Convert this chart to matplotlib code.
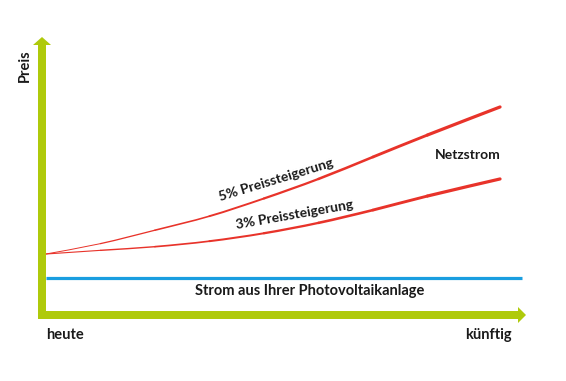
import matplotlib
matplotlib.use("Agg")
import matplotlib.pyplot as plt
import numpy as np
from matplotlib.path import Path
from matplotlib.patches import FancyArrow, PathPatch
from matplotlib.transforms import IdentityTransform

# ---- data (price index, start = 100) ----
years = [0, 3, 6, 9, 12, 15, 18, 21, 25]
price_5pct = [100, 117, 139, 162, 191, 223, 259, 295, 341]
price_3pct = [100, 106, 112, 121, 134, 151, 172, 195, 223]
pv_years = [0, 26.2]
pv_price = [61, 61]

label_y = "Preis"
label_start = "heute"
label_end = "künftig"
label_grid = "Netzstrom"
label_pv = "Strom aus Ihrer Photovoltaikanlage"
label_5 = "5% Preissteigerung"
label_3 = "3% Preissteigerung"

RED = "#e8332a"
GREEN = "#afca0b"
BLUE = "#1a9ee0"

plt.rcParams["font.family"] = ["Lato", "DejaVu Sans"]

W, H = 566, 381
fig = plt.figure(figsize=(W / 100, H / 100), dpi=100)
ax = fig.add_axes([42 / W, 66 / H, 484 / W, 278 / H])
ax.set_xlim(-0.22, 26.43)
ax.set_ylim(0, 455.7)
ax.axis("off")


def smooth_tapered(ax, x, y, w0, w1, color):
    """Draw a curve through the data points (Catmull-Rom Bezier pieces),
    each piece a bit thicker than the previous one."""
    P = np.column_stack([x, y]).astype(float)
    n = len(P)
    widths = np.linspace(w0, w1, n - 1)
    for i in range(n - 1):
        p0 = P[max(i - 1, 0)]
        p1 = P[i]
        p2 = P[i + 1]
        p3 = P[min(i + 2, n - 1)]
        c1 = p1 + (p2 - p0) / 6.0
        c2 = p2 - (p3 - p1) / 6.0
        path = Path([p1, c1, c2, p2],
                    [Path.MOVETO, Path.CURVE4, Path.CURVE4, Path.CURVE4])
        ax.add_patch(PathPatch(path, fill=False, edgecolor=color,
                               lw=widths[i], capstyle="round",
                               joinstyle="round", zorder=3))


smooth_tapered(ax, years, price_5pct, 0.7, 2.3, RED)
smooth_tapered(ax, years, price_3pct, 0.8, 2.3, RED)
ax.plot(pv_years, pv_price, color=BLUE, lw=2.3, solid_capstyle="butt", zorder=3)

# axes arrows (pixel coordinates)
tr = IdentityTransform()
fig.patches.append(FancyArrow(42, H - 319, 0, 282, width=8, head_width=18,
                              head_length=8, length_includes_head=True,
                              color=GREEN, lw=0, transform=tr, figure=fig))
fig.patches.append(FancyArrow(38, H - 315, 488, 0, width=8, head_width=16,
                              head_length=8, length_includes_head=True,
                              color=GREEN, lw=0, transform=tr, figure=fig))

kw = dict(fontweight="bold", color="#1a1a1a")
fig.text(25 / W, 1 - 66 / H, label_y, rotation=90, ha="center", va="center",
         fontsize=10.5, **kw)
fig.text(46 / W, 1 - 335 / H, label_start, ha="left", va="center",
         fontsize=10.5, **kw)
fig.text(512 / W, 1 - 335 / H, label_end, ha="right", va="center",
         fontsize=10.5, **kw)
fig.text(468 / W, 1 - 155 / H, label_grid, ha="center", va="center",
         fontsize=10, **kw)
fig.text(310 / W, 1 - 291 / H, label_pv, ha="center", va="center",
         fontsize=10.5, **kw)
fig.text(276 / W, 1 - 180 / H, label_5, rotation=17, ha="center", va="center",
         rotation_mode="anchor", fontsize=10, **kw)
fig.text(294 / W, 1 - 215 / H, label_3, rotation=10, ha="center", va="center",
         rotation_mode="anchor", fontsize=10, **kw)

fig.savefig("out.png", dpi=100, facecolor="white")
